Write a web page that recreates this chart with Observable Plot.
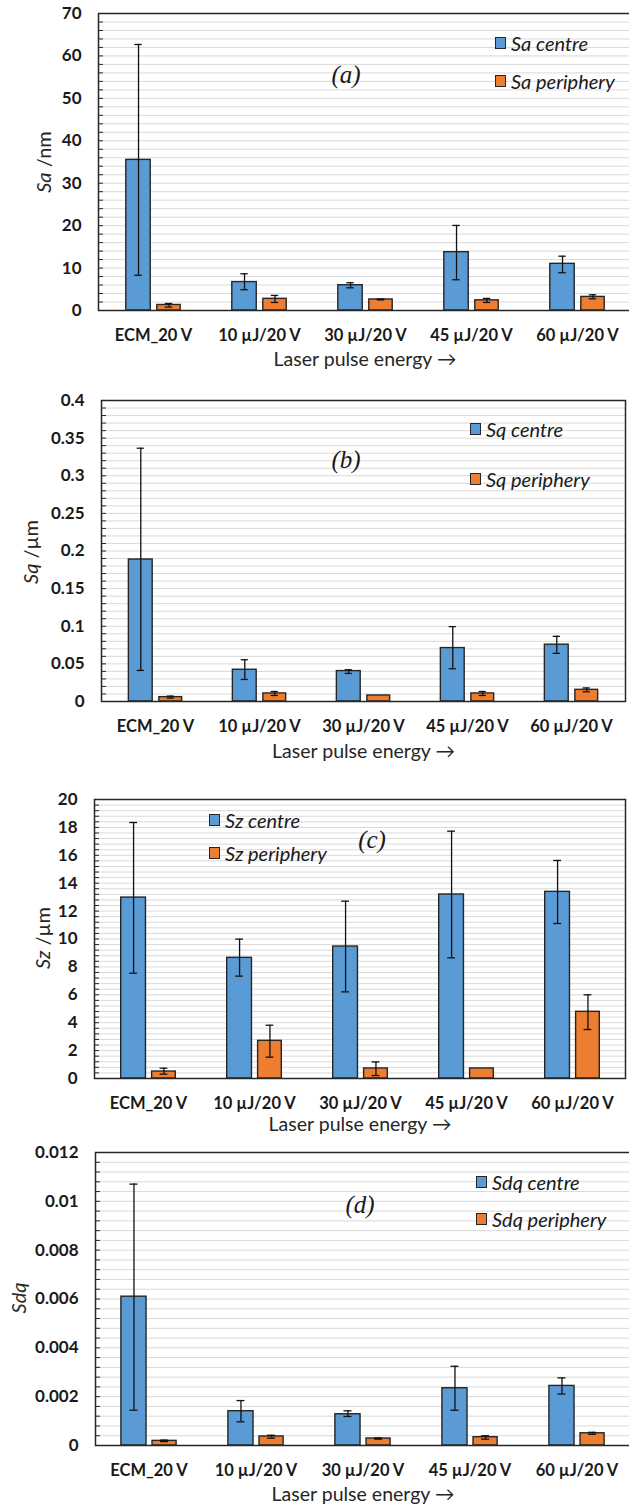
<!DOCTYPE html>
<html><head><meta charset="utf-8">
<script src="https://cdn.jsdelivr.net/npm/d3@7"></script>
<script src="https://cdn.jsdelivr.net/npm/@observablehq/plot@0.6"></script>
<style>
body{margin:0;background:#fff;width:629px;height:1509px;position:relative;overflow:hidden;font-family:Lato,"Open Sans",sans-serif;color:#1a1a1a;}
.panel{position:absolute;left:0;width:629px;}
.panel svg{position:absolute;left:0;top:0;overflow:visible;max-width:none;background:transparent;}
.ytitle{position:absolute;transform:translate(-50%,-50%) rotate(-90deg);white-space:nowrap;font-size:20px;color:#262626;}
.lab{position:absolute;transform:translate(-50%,-50%);font-family:"Liberation Serif","DejaVu Serif",serif;font-style:italic;font-size:25px;white-space:nowrap;}
.leg{position:absolute;font-style:italic;font-size:20px;display:flex;align-items:center;white-space:nowrap;transform:translateY(-50%);color:#1a1a1a;}
.leg .sw{display:inline-block;width:9px;height:10px;border:1.5px solid #262626;margin-right:5px;}
</style>
</head><body>
<div id="root"></div>
<script>
// ---------- DATA ----------
const categories = ["ECM_20 V", "10 µJ/20 V", "30 µJ/20 V", "45 µJ/20 V", "60 µJ/20 V"];
const seriesNames = ["centre", "periphery"];
const xTitle = "Laser pulse energy →";

// (a) Sa /nm
const saCentre   = [35.5, 6.7, 5.95, 13.75, 11.0];
const saCentreLo = [8.3, 4.9, 5.35, 7.25, 8.9];
const saCentreHi = [62.7, 8.65, 6.55, 20.05, 12.8];
const saPeriph   = [1.3, 2.75, 2.6, 2.4, 3.2];
const saPeriphLo = [0.8, 1.9, 2.5, 1.9, 2.75];
const saPeriphHi = [1.65, 3.55, 2.7, 2.85, 3.7];
const saTicks = [0, 10, 20, 30, 40, 50, 60, 70];

// (b) Sq /µm
const sqCentre   = [0.1887, 0.0422, 0.0404, 0.071, 0.0755];
const sqCentreLo = [0.0413, 0.0293, 0.0373, 0.0435, 0.064];
const sqCentreHi = [0.3366, 0.0555, 0.0422, 0.0995, 0.0866];
const sqPeriph   = [0.0058, 0.0107, 0.008, 0.0107, 0.0155];
const sqPeriphLo = [0.0045, 0.008, null, 0.008, 0.0129];
const sqPeriphHi = [0.0072, 0.0133, null, 0.0133, 0.018];
const sqTicks = [0, 0.05, 0.1, 0.15, 0.2, 0.25, 0.3, 0.35, 0.4];

// (c) Sz /µm
const szCentre   = [12.97, 8.65, 9.46, 13.19, 13.38];
const szCentreLo = [7.55, 7.34, 6.21, 8.65, 11.11];
const szCentreHi = [18.35, 9.99, 12.71, 17.73, 15.63];
const szPeriph   = [0.5, 2.7, 0.72, 0.72, 4.78];
const szPeriphLo = [0.31, 1.53, 0.21, null, 3.51];
const szPeriphHi = [0.74, 3.82, 1.19, null, 6.0];
const szTicks = [0, 2, 4, 6, 8, 10, 12, 14, 16, 18, 20];

// (d) Sdq
const sdqCentre   = [0.006095, 0.001405, 0.00128, 0.002345, 0.00244];
const sdqCentreLo = [0.001445, 0.00097, 0.00119, 0.001445, 0.00211];
const sdqCentreHi = [0.010705, 0.00184, 0.00142, 0.003245, 0.00277];
const sdqPeriph   = [0.00019, 0.00037, 0.000286, 0.00034, 0.0005];
const sdqPeriphLo = [0.00016, 0.0003, 0.00026, 0.00026, 0.00046];
const sdqPeriphHi = [0.00022, 0.00042, 0.00031, 0.0004, 0.00054];
const sdqTicks = [0, 0.002, 0.004, 0.006, 0.008, 0.01, 0.012];

// ---------- STYLE / LAYOUT ----------
const colors = {centre: "#5B9BD5", periphery: "#ED7D31"};
const geom = {centre: [0.242, 0.477], periphery: [0.533, 0.758]};
const W = 629;

const panels = [
  {top: 0, height: 385, mt: 13, mb: 75, ml: 98, mr: -2, max: 70, minorStep: 2, xlabDy: 55,
   c: saCentre, cLo: saCentreLo, cHi: saCentreHi, p: saPeriph, pLo: saPeriphLo, pHi: saPeriphHi, ticks: saTicks,
   sym: "Sa", unit: " /nm", yt: [43, 162], lab: "(a)", labPos: [346, 75], leg: [495, 43, 81]},
  {top: 385, height: 395, mt: 15, mb: 79, ml: 101, mr: 4, max: 0.4, minorStep: 0.01, xlabDy: 56,
   c: sqCentre, cLo: sqCentreLo, cHi: sqCentreHi, p: sqPeriph, pLo: sqPeriphLo, pHi: sqPeriphHi, ticks: sqTicks,
   sym: "Sq", unit: " /µm", yt: [30, 552], lab: "(b)", labPos: [346, 460], leg: [470, 429, 479]},
  {top: 780, height: 360, mt: 19, mb: 62, ml: 94, mr: 4, max: 20, minorStep: 0.4, xlabDy: 52,
   c: szCentre, cLo: szCentreLo, cHi: szCentreHi, p: szPeriph, pLo: szPeriphLo, pHi: szPeriphHi, ticks: szTicks,
   sym: "Sz", unit: " /µm", yt: [42, 938], lab: "(c)", labPos: [372, 840], leg: [209, 820, 853]},
  {top: 1140, height: 369, mt: 12, mb: 64, ml: 95, mr: -1, max: 0.012, minorStep: 0.0004, xlabDy: 55,
   c: sdqCentre, cLo: sdqCentreLo, cHi: sdqCentreHi, p: sdqPeriph, pLo: sdqPeriphLo, pHi: sdqPeriphHi, ticks: sdqTicks,
   sym: "Sdq", unit: "", yt: [18, 1298], lab: "(d)", labPos: [360, 1205], leg: [476, 1182, 1219]}
];

const root = document.getElementById("root");

for (const cfg of panels) {
  const bw = (W - cfg.ml - cfg.mr) / categories.length;
  const plotW = W - cfg.ml - cfg.mr;
  const rows = [];
  categories.forEach((cat, i) => {
    rows.push({cat, s: "centre", v: cfg.c[i], lo: cfg.cLo[i], hi: cfg.cHi[i]});
    rows.push({cat, s: "periphery", v: cfg.p[i], lo: cfg.pLo[i], hi: cfg.pHi[i]});
  });
  const n = Math.round(cfg.max / cfg.minorStep);
  const minor = d3.range(0, n + 1).map(k => k * cfg.minorStep);

  const marks = [
    Plot.gridY(minor, {stroke: "#d9d9d9", strokeOpacity: 1, strokeWidth: 1})
  ];
  for (const s of seriesNames) {
    const [a, b] = geom[s];
    marks.push(Plot.barY(rows.filter(r => r.s === s), {
      x: "cat", y: "v", fill: colors[s], stroke: "#262626", strokeWidth: 1.4,
      insetLeft: a * bw, insetRight: (1 - b) * bw
    }));
  }
  for (const s of seriesNames) {
    const [a, b] = geom[s];
    const off = ((a + b) / 2 - 0.5) * bw;
    const d = rows.filter(r => r.s === s && r.hi != null);
    marks.push(Plot.ruleX(d, {x: "cat", y1: "lo", y2: "hi", dx: off, stroke: "#111", strokeWidth: 1.3}));
    const capIn = bw / 2 - 4;
    marks.push(Plot.tickY(d, {x: "cat", y: "hi", dx: off, insetLeft: capIn, insetRight: capIn, stroke: "#111", strokeWidth: 1.3}));
    marks.push(Plot.tickY(d, {x: "cat", y: "lo", dx: off, insetLeft: capIn, insetRight: capIn, stroke: "#111", strokeWidth: 1.3}));
  }
  marks.push(
    Plot.tickY(minor, {y: d => d, insetRight: plotW - 5, stroke: "#262626", strokeWidth: 1}),
    Plot.frame({stroke: "#262626", strokeWidth: 1.5}),
    Plot.axisY(cfg.ticks, {tickSize: 0, tickPadding: 17, fontSize: 17, fontWeight: "bold", fill: "#1a1a1a",
      tickFormat: d => String(d), label: null}),
    Plot.axisX({tickSize: 0, tickPadding: 19, fontSize: 16.5, fontWeight: "bold", fill: "#1a1a1a", label: null}),
    Plot.text([xTitle], {text: d => d, frameAnchor: "bottom", dy: cfg.xlabDy, fontSize: 19.5, fill: "#262626"})
  );

  const chart = Plot.plot({
    width: W, height: cfg.height,
    marginTop: cfg.mt, marginBottom: cfg.mb, marginLeft: cfg.ml, marginRight: cfg.mr,
    style: {fontFamily: "Lato, 'Open Sans', sans-serif", background: "transparent", overflow: "visible"},
    x: {type: "band", domain: categories, padding: 0},
    y: {domain: [0, cfg.max], nice: false},
    marks
  });

  const div = document.createElement("div");
  div.className = "panel";
  div.style.top = cfg.top + "px";
  div.style.height = cfg.height + "px";
  div.appendChild(chart);
  root.appendChild(div);

  const yt = document.createElement("div");
  yt.className = "ytitle";
  yt.style.left = cfg.yt[0] + "px"; yt.style.top = cfg.yt[1] + "px";
  yt.innerHTML = `<i>${cfg.sym}</i>${cfg.unit}`;
  root.appendChild(yt);

  const lab = document.createElement("div");
  lab.className = "lab";
  lab.style.left = cfg.labPos[0] + "px"; lab.style.top = cfg.labPos[1] + "px";
  lab.textContent = cfg.lab;
  root.appendChild(lab);

  seriesNames.forEach((s, i) => {
    const lg = document.createElement("div");
    lg.className = "leg";
    lg.style.left = cfg.leg[0] + "px";
    lg.style.top = cfg.leg[1 + i] + "px";
    lg.innerHTML = `<span class="sw" style="background:${colors[s]}"></span>${cfg.sym} ${s}`;
    root.appendChild(lg);
  });
}
</script>
</body></html>
